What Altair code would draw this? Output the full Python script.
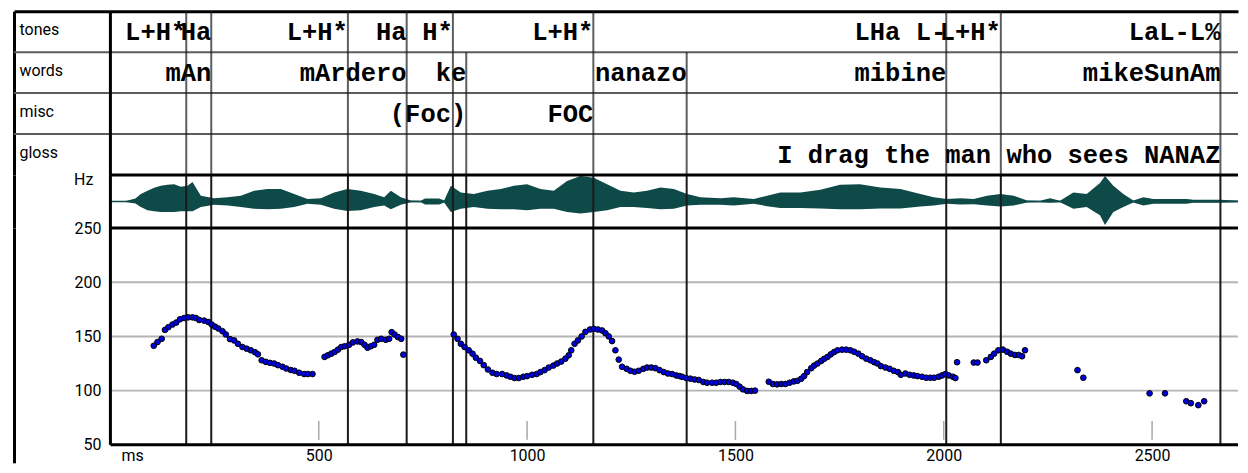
import altair as alt
import pandas as pd

# ---------------- data ----------------
X_MIN, X_MAX = -231.4, 2706.2           # ms shown across the whole window
TIERS = ["tones", "words", "misc", "gloss"]

# boundaries (ms)
ALL_BOUNDS = [182, 242, 570, 711, 822, 854, 1159, 1383, 2006, 2137, 2664]
TONE_BOUNDS = [182, 242, 570, 711, 822, 1159, 2006, 2137, 2664]
TONE_LABELS = ["L+H*", "Ha", "L+H*", "Ha", "H*", "L+H*", "LHa L-", "L+H*", "LaL-L%"]
WORD_TIMES = [242, 711, 854, 1383, 2006, 2664]
WORD_LABELS = ["mAn", "mArdero", "ke", "nanazo", "mibine", "mikeSunAm"]
MISC_TIMES = [854, 1159]
MISC_LABELS = ["(Foc)", "FOC"]
GLOSS_TIMES = [2664]
GLOSS_LABELS = ["I drag the man who sees NANAZ"]

# waveform envelope (ms, upper amplitude, lower amplitude)
WAVE_T = [0, 37, 60, 73, 89, 105, 121, 137, 153, 169, 185, 197, 217, 249, 281, 313, 345, 377,
          409, 441, 473, 505, 537, 569, 601, 633, 657, 673, 697, 721, 745, 755, 789, 801, 817,
          841, 872, 905, 937, 968, 1000, 1032, 1064, 1096, 1128, 1160, 1192, 1224, 1256, 1288,
          1320, 1352, 1384, 1416, 1464, 1496, 1544, 1576, 1608, 1656, 1704, 1751, 1799, 1848,
          1896, 1944, 1976, 2008, 2040, 2072, 2104, 2136, 2168, 2200, 2231, 2255, 2279, 2311,
          2343, 2375, 2387, 2407, 2431, 2455, 2479, 2503, 2583, 2599, 2663, 2706]
WAVE_UP = [0.6, 0.6, 3, 7.7, 11, 14, 16, 17, 17.7, 15, 16, 20, 6, 3.3, 4.3, 6, 11, 12.7,
           12.7, 7.7, 2.7, 3.3, 9.3, 12.7, 11, 7.7, 4.3, 11, 4.3, 1, 0.7, 3, 3, 1, 16,
           9.3, 7.7, 11, 12.7, 16, 17.7, 12.7, 11, 21, 26, 24.3, 17.7, 11, 9.3, 11,
           14.3, 12.7, 7.7, 4.3, 3.3, 4.3, 2.7, 6, 9.3, 9.3, 12, 17, 17.7, 14.3,
           12.7, 7.7, 4.3, 2.7, 3.3, 2.7, 6, 7.7, 6, 1, 0.7, 3.3, 0.7, 9.3,
           7.7, 19, 26, 16, 7.7, 1, 4.3, 2.7, 2.7, 1.7, 1.7, 1]
WAVE_DN = [0.6, 0.6, 2, 5.7, 9, 10, 10.7, 10.7, 10.7, 10, 10, 10, 5.7, 3.3, 4, 5.7, 7.3, 8,
           7.3, 5.7, 2.3, 3.3, 7.3, 9.7, 9, 5.7, 4, 8, 3.3, 0.7, 0.7, 3, 3, 1, 10.7,
           7.3, 5.7, 7.3, 8, 8, 9, 7.3, 7.3, 10.7, 12.3, 10.7, 9, 5.7, 5.7, 6.7,
           8, 7.3, 4, 3.3, 3.3, 4, 2.3, 4.7, 6.7, 6.7, 7, 8, 8, 7,
           7, 5, 4, 2.3, 3, 2.7, 4, 5, 4, 1, 0.7, 1.3, 0.7, 7.3,
           5.7, 14, 24, 10.7, 5.7, 1, 4, 2.3, 2.3, 1.3, 1.3, 0.7]

# F0 track (ms, Hz)
F0_T = [104, 113, 123, 131, 139, 149, 158, 167, 177, 187, 197, 205, 213, 225, 235, 243, 251, 259,
        269, 277, 287, 297, 306, 317, 327, 337, 347, 354, 363, 373, 383, 393, 402, 413, 422, 433,
        442, 453, 465, 474, 485,
        514, 522, 530, 538, 546, 554, 562, 573, 582, 593, 602, 610, 617, 625, 633, 641, 650, 661,
        669, 675, 682, 690, 698, 703,
        824, 833, 841, 850, 860, 869, 877, 887, 896, 906, 917, 927, 940, 951, 960, 970, 980, 991,
        1000, 1012, 1023, 1032, 1042, 1052, 1063, 1072, 1082, 1092, 1100, 1106, 1114, 1122, 1131,
        1140, 1151, 1160, 1170, 1180, 1188, 1196, 1204, 1212, 1220, 1228, 1239, 1248, 1258, 1268,
        1279, 1288, 1298, 1308, 1318, 1328, 1338, 1348, 1358, 1366, 1372, 1382, 1392, 1402, 1412,
        1423, 1432, 1444, 1454, 1464, 1474, 1484, 1494, 1502, 1510, 1518, 1528, 1538, 1547,
        1580, 1590, 1600, 1610, 1620, 1630, 1640, 1649, 1658, 1665, 1672, 1682, 1689, 1697, 1706,
        1713, 1721, 1729, 1737, 1745, 1756, 1766, 1776, 1785, 1795, 1804, 1814, 1824, 1833, 1841,
        1849, 1860, 1870, 1880, 1890, 1897, 1908, 1918, 1928, 1937, 1948, 1958, 1968, 1977, 1988,
        1996, 2004, 2012, 2022, 2028,
        2032, 2072, 2081, 2102, 2113, 2121, 2131, 2142, 2152, 2161, 2171, 2180, 2188, 2195,
        2321, 2335, 2494, 2531, 2582, 2593, 2611, 2625]
F0_HZ = [141.4, 144.8, 147.8, 156, 158.5, 161, 162.8, 165.8, 167, 167.6, 167.6, 167, 165.2, 164.6,
         163.3, 161, 159, 157.3, 154.8, 151.8, 147.5, 146.3, 143.2, 140.2, 138.7, 137.2, 135.4,
         133.5, 128, 126.5, 125.6, 125, 123.5, 122, 120.4, 119, 118.3, 116.5, 115.3, 115.3, 115.3,
         131.1, 132.6, 134.1, 135.6, 137.8, 140.2, 140.9, 142.3, 144.5, 145.4, 144.8, 142.3, 139.6,
         140.9, 142.3, 146.9, 147.8, 146.9, 147.8, 153.9, 151.8, 149.4, 147.8, 133.2,
         151.8, 147.8, 143.2, 140.2, 137.2, 134.1, 130.4, 127.4, 123.5, 119.5, 116.5, 115.3, 115.3,
         114, 112.8, 111.6, 111.6, 112.8, 113.4, 114.6, 115.3, 117.1, 118.9, 121.3, 123.1, 125,
         126.8, 129.5, 132.6, 137.2, 143.2, 146.3, 150, 154.2, 156.4, 157, 156.4, 155.5, 153, 150,
         145.7, 137.2, 128.6, 122, 120.1, 118.3, 117.4, 118.3, 120.1, 121.3, 121.3, 120.7, 118.9,
         117.1, 115.8, 115.3, 114, 113.4, 112.8, 111.6, 111, 110.3, 109.8, 108, 107.3, 107.3, 107.3,
         108, 108, 108, 107.3, 106.1, 103.7, 101.2, 99.7, 99.7, 100,
         108.2, 106.1, 105.8, 106.1, 106.1, 107.3, 108.5, 109.1, 111, 113.4, 117.1, 120.7, 123.1,
         125, 127.4, 129.3, 131.1, 133.5, 135.6, 137.2, 137.8, 137.8, 137.2, 135.9, 134.1, 131.7,
         129.5, 128, 126.2, 125, 122.6, 121.3, 120.1, 118.3, 117.1, 114.6, 115.8, 114.6, 114,
         113.4, 112.8, 111.9, 111.9, 111.9, 112.8, 114, 115.3, 114, 112.8, 111.6,
         126.2, 125.9, 125.9, 128, 131.1, 134.1, 137.2, 137.8, 135.9, 134.1, 132.9, 132.9, 131.7,
         137.2,
         118.9, 111.9, 97.5, 97.5, 90.2, 88.4, 86.6, 90.2]

MS_TICKS = [500, 1000, 1500, 2000, 2500]
HZ_LABELS = [50, 100, 150, 200, 250]
HZ_GRID = [100, 150, 200]

# ---------------- tables ----------------
line_rows = [{"tier": "tones", "t": t} for t in TONE_BOUNDS]
for tier in TIERS[1:]:
    line_rows += [{"tier": tier, "t": t} for t in ALL_BOUNDS]
lines_df = pd.DataFrame(line_rows)

label_rows = []
for tier, ts, ls in [("tones", TONE_BOUNDS, TONE_LABELS), ("words", WORD_TIMES, WORD_LABELS),
                     ("misc", MISC_TIMES, MISC_LABELS), ("gloss", GLOSS_TIMES, GLOSS_LABELS)]:
    label_rows += [{"tier": tier, "t": t, "label": l} for t, l in zip(ts, ls)]
labels_df = pd.DataFrame(label_rows)

seps_df = pd.DataFrame({"tier": TIERS[1:]})
bounds_df = pd.DataFrame({"t": ALL_BOUNDS})
wave_df = pd.DataFrame({"t": WAVE_T, "up": WAVE_UP, "dn": WAVE_DN})
f0_df = pd.DataFrame({"t": F0_T, "hz": F0_HZ})
one_df = pd.DataFrame({"k": [0]})
grid_df = pd.DataFrame({"hz": HZ_GRID})
ticks_df = pd.DataFrame({"t": MS_TICKS})

# ---------------- styles ----------------
W = 1225
ROW = 41
WAVE_H = 53
PLOT_H, LABEL_H = 217, 18
TEAL = "#0e4a47"
LINE = "#1a1a1a"
SEP = "#5c5c5c"
FRAME = "black"
SANS = "Roboto"

xs = alt.Scale(domain=[X_MIN, X_MAX], nice=False, zero=False)

# ---- tiers panel ----
ax_top = alt.Axis(orient="top", domain=True, domainColor=FRAME, domainWidth=3, labels=False,
                  ticks=False, tickSize=0, grid=False, title=None)
tier_scale = alt.Scale(domain=TIERS, paddingInner=0, paddingOuter=0)
ax_tier = alt.Axis(orient="left", domain=True, domainColor=FRAME, domainWidth=3, ticks=False,
                   tickSize=0, grid=False, title=None, labelAlign="left", labelBaseline="middle",
                   labelPadding=-5, labelOffset=-1.5, labelFont=SANS, labelFontSize=16,
                   labelColor="black")

seps = alt.Chart(seps_df).mark_rule(color=SEP, strokeWidth=2).encode(
    y=alt.Y("tier:N", scale=tier_scale, axis=ax_tier, bandPosition=0))
texts = alt.Chart(labels_df).mark_text(
    align="right", baseline="alphabetic", dy=8.5, font="Liberation Mono", fontWeight="bold",
    fontSize=25.5, color="black").encode(
    x=alt.X("t:Q", scale=xs, axis=ax_top),
    y=alt.Y("tier:N", scale=tier_scale, axis=ax_tier),
    text="label:N")
ticks = alt.Chart(lines_df).mark_tick(color=LINE, size=ROW, thickness=2).encode(
    x=alt.X("t:Q", scale=xs, axis=ax_top),
    y=alt.Y("tier:N", scale=tier_scale, axis=ax_tier))
div_t = alt.Chart(one_df).mark_rule(color=FRAME, strokeWidth=3).encode(
    x=alt.X(datum=0, type="quantitative", scale=xs, axis=ax_top))
tiers = alt.layer(seps, texts, ticks, div_t).properties(width=W, height=4 * ROW)

# ---- waveform panel ----
ys_w = alt.Scale(domain=[-27, 27], nice=False, zero=False)
ax_w = alt.Axis(orient="left", domain=True, domainColor=FRAME, domainWidth=3, ticks=False,
                tickSize=0, labels=False, grid=False, title="Hz", titleAngle=0,
                titleAlign="right", titleBaseline="top", titleX=79, titleY=-4, titleFont=SANS,
                titleFontSize=16, titleFontWeight="normal", titleColor="black")
area = alt.Chart(wave_df).transform_calculate(lo="-datum.dn").mark_area(color=TEAL).encode(
    x=alt.X("t:Q", scale=xs, axis=None),
    y=alt.Y("up:Q", scale=ys_w, axis=ax_w),
    y2="lo:Q")
center = alt.Chart(one_df).mark_rule(color=TEAL, strokeWidth=1.5).encode(
    x=alt.X(datum=0, type="quantitative", scale=xs, axis=None),
    x2=alt.X2(datum=X_MAX),
    y=alt.Y(datum=0, type="quantitative", scale=ys_w, axis=ax_w))
vl_w = alt.Chart(bounds_df).mark_rule(color=LINE, strokeWidth=2).encode(
    x=alt.X("t:Q", scale=xs, axis=None))
div_w = alt.Chart(one_df).mark_rule(color=FRAME, strokeWidth=3).encode(
    x=alt.X(datum=0, type="quantitative", scale=xs, axis=None))
top_w = alt.Chart(one_df).mark_rule(color=FRAME, strokeWidth=3).encode(
    x=alt.X(datum=0, type="quantitative", scale=xs, axis=None),
    x2=alt.X2(datum=X_MAX),
    y=alt.Y(datum=27, type="quantitative", scale=ys_w, axis=ax_w))
wave = alt.layer(area, center, vl_w, div_w, top_w).properties(width=W, height=WAVE_H)

# ---- pitch panel ----
HZ_MIN = 50 - LABEL_H * 200 / PLOT_H
ys_p = alt.Scale(domain=[HZ_MIN, 250], nice=False, zero=False)
ax_py = alt.Axis(orient="left", values=HZ_LABELS, domain=True, domainColor=FRAME, domainWidth=3,
                 ticks=False, tickSize=0, grid=False, title=None, labelAlign="right",
                 labelBaseline="middle", labelPadding=-87, labelFlush=False, labelFont=SANS,
                 labelFontSize=16, labelColor="black")
ax_px = alt.Axis(orient="bottom", values=MS_TICKS, format="d", offset=-LABEL_H, domain=False,
                 ticks=False, tickSize=0, grid=False, labelPadding=3, labelBaseline="top",
                 labelFlush=False, labelFont=SANS, labelFontSize=16, labelColor="black",
                 title="ms", titleX=107, titleY=3, titleAlign="left", titleBaseline="top",
                 titleFont=SANS, titleFontSize=16, titleFontWeight="normal", titleColor="black")

def px(field=None, datum=None):
    if field is not None:
        return alt.X(field, type="quantitative", scale=xs, axis=ax_px)
    return alt.X(datum=datum, type="quantitative", scale=xs, axis=ax_px)

def py(field=None, datum=None):
    if field is not None:
        return alt.Y(field, type="quantitative", scale=ys_p, axis=ax_py)
    return alt.Y(datum=datum, type="quantitative", scale=ys_p, axis=ax_py)

grid = alt.Chart(grid_df).mark_rule(color="#b4b4b4", strokeWidth=2).encode(
    x=px(datum=0), x2=alt.X2(datum=X_MAX), y=py("hz"))
tmarks = alt.Chart(ticks_df).mark_rule(color="#a8a8a8", strokeWidth=1.5).encode(
    x=px("t"), y=py(datum=54.6), y2=alt.Y2(datum=72))
vl_p = alt.Chart(bounds_df).mark_rule(color=LINE, strokeWidth=2).encode(
    x=px("t"), y=py(datum=50), y2=alt.Y2(datum=250))
div_p = alt.Chart(one_df).mark_rule(color=FRAME, strokeWidth=3).encode(
    x=px(datum=0), y=py(datum=50), y2=alt.Y2(datum=250))
top_p = alt.Chart(one_df).mark_rule(color=FRAME, strokeWidth=3).encode(
    x=px(datum=0), x2=alt.X2(datum=X_MAX), y=py(datum=250))
bot_p = alt.Chart(one_df).mark_rule(color=FRAME, strokeWidth=3).encode(
    x=px(datum=0), x2=alt.X2(datum=X_MAX), y=py(datum=50))
dots = alt.Chart(f0_df).mark_circle(size=32, color="#0000dc", stroke="black", strokeWidth=1,
                                     opacity=1).encode(x=px("t"), y=py("hz"))
pitch = alt.layer(grid, tmarks, vl_p, div_p, top_p, bot_p, dots).properties(
    width=W, height=PLOT_H + LABEL_H)

chart = alt.vconcat(tiers, wave, pitch, spacing=0, bounds="flush").resolve_scale(
    x="shared", y="independent").properties(
    padding={"left": 4, "top": 1, "right": 0, "bottom": 0},
    background="white").configure_view(stroke="transparent")

chart.save("out.html", embed_options={"renderer": "svg", "actions": False})
